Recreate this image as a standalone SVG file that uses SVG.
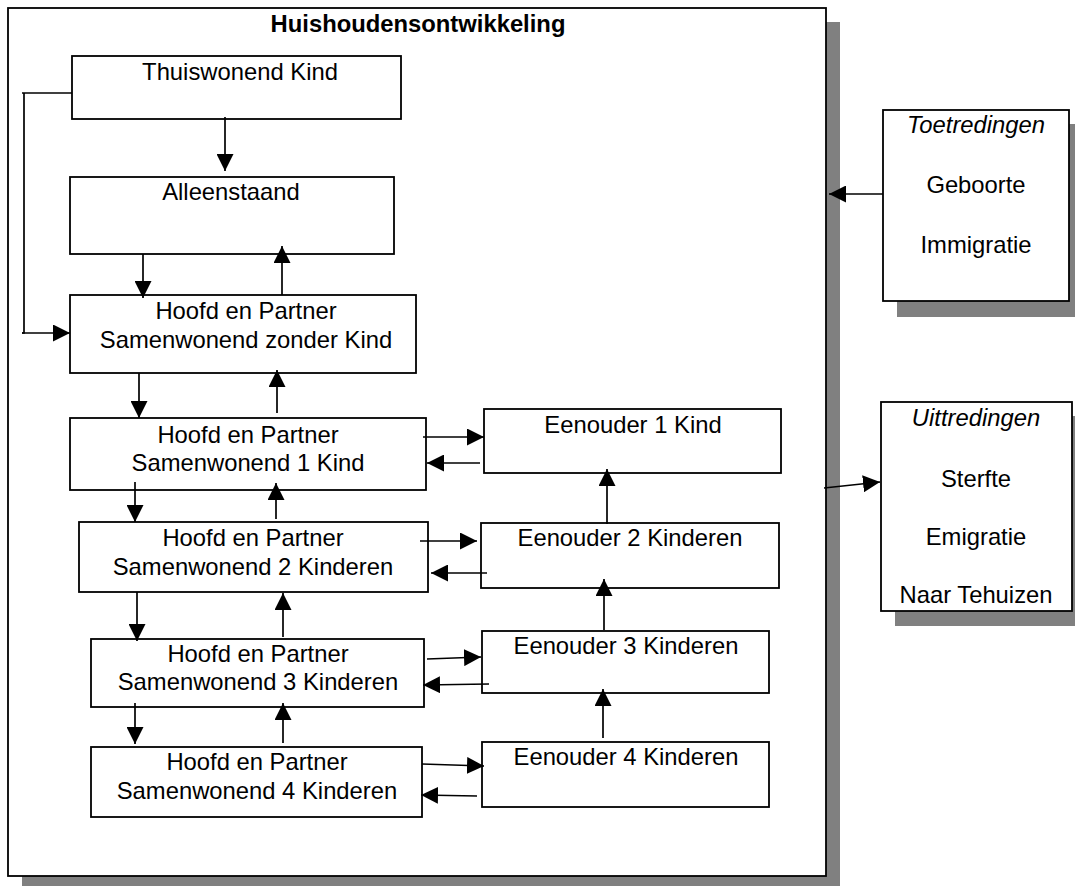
<svg xmlns="http://www.w3.org/2000/svg" width="1075" height="886" viewBox="0 0 1075 886">
<style>
.box{fill:#fff;stroke:#000;stroke-width:1.8}
.shadow{fill:#808080}
text{font-family:"Liberation Sans",Arial,sans-serif;font-size:23.8px;fill:#000;text-anchor:middle}
.title{font-weight:bold}
.it{font-style:italic}
.c line,.c polyline{stroke:#000;stroke-width:1.7;fill:none}
</style>
<defs>
<marker id="ah" markerUnits="userSpaceOnUse" markerWidth="18" markerHeight="17" refX="17" refY="8.5" orient="auto">
<path d="M0,0 L17,8.5 L0,17 z" fill="#000"/>
</marker>
</defs>
<rect x="0" y="0" width="1075" height="886" fill="#fff"/>
<g id="outer">
<rect class="shadow" x="22" y="22" width="818" height="868"/>
<rect class="box" x="8" y="8" width="818" height="868"/>
<text class="title" x="418" y="32">Huishoudensontwikkeling</text>
</g>
<g id="toetredingen">
<rect class="shadow" x="897" y="124" width="186" height="193"/>
<rect class="box" x="883" y="110" width="186" height="191"/>
<text class="it" x="976" y="133">Toetredingen</text>
<text x="976" y="193">Geboorte</text>
<text x="976" y="253">Immigratie</text>
</g>
<g id="uittredingen">
<rect class="shadow" x="895" y="416" width="191" height="210"/>
<rect class="box" x="881" y="402" width="191" height="209"/>
<text class="it" x="976" y="426">Uittredingen</text>
<text x="976" y="487">Sterfte</text>
<text x="976" y="545">Emigratie</text>
<text x="976" y="603">Naar Tehuizen</text>
</g>
<g id="thuiswonend">
<rect class="box" x="72" y="56" width="329" height="63"/>
<text x="240" y="80">Thuiswonend Kind</text>
</g>
<g id="alleenstaand">
<rect class="box" x="70" y="177" width="324" height="77"/>
<text x="231" y="200">Alleenstaand</text>
</g>
<g id="hp0">
<rect class="box" x="70" y="295" width="346" height="78"/>
<text x="246" y="319">Hoofd en Partner</text>
<text x="246" y="348">Samenwonend zonder Kind</text>
</g>
<g id="hp1">
<rect class="box" x="70" y="418" width="356" height="72"/>
<text x="248" y="443">Hoofd en Partner</text>
<text x="248" y="471">Samenwonend 1 Kind</text>
</g>
<g id="hp2">
<rect class="box" x="79" y="522" width="349" height="70"/>
<text x="253" y="546">Hoofd en Partner</text>
<text x="253" y="575">Samenwonend 2 Kinderen</text>
</g>
<g id="hp3">
<rect class="box" x="91" y="639" width="333" height="68"/>
<text x="258" y="662">Hoofd en Partner</text>
<text x="258" y="690">Samenwonend 3 Kinderen</text>
</g>
<g id="hp4">
<rect class="box" x="91" y="747" width="331" height="70"/>
<text x="257" y="770">Hoofd en Partner</text>
<text x="257" y="799">Samenwonend 4 Kinderen</text>
</g>
<g id="e1">
<rect class="box" x="484" y="409" width="297" height="64"/>
<text x="633" y="433">Eenouder 1 Kind</text>
</g>
<g id="e2">
<rect class="box" x="481" y="523" width="298" height="65"/>
<text x="630" y="546">Eenouder 2 Kinderen</text>
</g>
<g id="e3">
<rect class="box" x="482" y="631" width="287" height="62"/>
<text x="626" y="654">Eenouder 3 Kinderen</text>
</g>
<g id="e4">
<rect class="box" x="482" y="742" width="287" height="65"/>
<text x="626" y="765">Eenouder 4 Kinderen</text>
</g>
<g id="connectors" class="c">
<polyline points="72,93 22,93"/>
<polyline points="24,93 24,333 22,333"/>
<line x1="22" y1="333" x2="70" y2="333" marker-end="url(#ah)"/>
<line x1="225" y1="117" x2="225" y2="171" marker-end="url(#ah)"/>
<line x1="143" y1="254" x2="143" y2="298" marker-end="url(#ah)"/>
<line x1="282" y1="295" x2="282" y2="246" marker-end="url(#ah)"/>
<line x1="139" y1="373" x2="139" y2="418" marker-end="url(#ah)"/>
<line x1="277" y1="413" x2="277" y2="370" marker-end="url(#ah)"/>
<line x1="135" y1="482" x2="135" y2="522" marker-end="url(#ah)"/>
<line x1="276" y1="519" x2="276" y2="483" marker-end="url(#ah)"/>
<line x1="137" y1="592" x2="137" y2="641" marker-end="url(#ah)"/>
<line x1="283" y1="637" x2="283" y2="593" marker-end="url(#ah)"/>
<line x1="135" y1="703" x2="135" y2="744" marker-end="url(#ah)"/>
<line x1="283" y1="743" x2="283" y2="703" marker-end="url(#ah)"/>
<line x1="423" y1="437" x2="484" y2="437" marker-end="url(#ah)"/>
<line x1="480" y1="463" x2="427" y2="463" marker-end="url(#ah)"/>
<line x1="420" y1="541" x2="477" y2="541" marker-end="url(#ah)"/>
<line x1="487" y1="573" x2="431" y2="573" marker-end="url(#ah)"/>
<line x1="427" y1="659" x2="481" y2="657" marker-end="url(#ah)"/>
<line x1="489" y1="684" x2="423" y2="685" marker-end="url(#ah)"/>
<line x1="422" y1="764" x2="484" y2="766" marker-end="url(#ah)"/>
<line x1="477" y1="796" x2="421" y2="795" marker-end="url(#ah)"/>
<line x1="607" y1="524" x2="607" y2="469" marker-end="url(#ah)"/>
<line x1="604" y1="630" x2="604" y2="579" marker-end="url(#ah)"/>
<line x1="603" y1="738" x2="603" y2="689" marker-end="url(#ah)"/>
<line x1="883" y1="194" x2="829" y2="194" marker-end="url(#ah)"/>
<line x1="824" y1="488" x2="880" y2="482" marker-end="url(#ah)"/>
</g>
</svg>
